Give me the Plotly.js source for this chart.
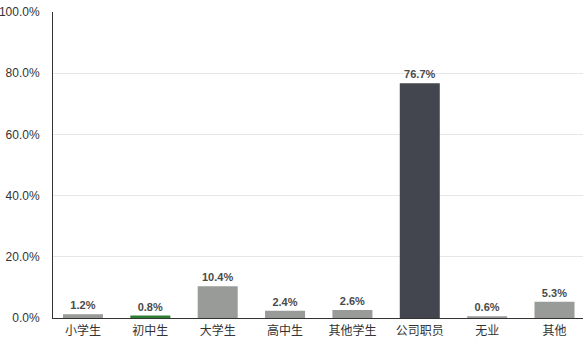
<!DOCTYPE html>
<html>
<head>
<meta charset="utf-8">
<script src="https://cdn.plot.ly/plotly-3.0.1.min.js"></script>
<style>html,body{margin:0;padding:0;background:#fff;}#chart{width:586px;height:361px;}</style>
</head>
<body>
<div id="chart"></div>
<script>
var categories = ["小学生", "初中生", "大学生", "高中生", "其他学生", "公司职员", "无业", "其他"];
var values = [1.2, 0.8, 10.4, 2.4, 2.6, 76.7, 0.6, 5.3];
var barColors = ["#999b98", "#2e7d32", "#999b98", "#999b98", "#999b98", "#43464e", "#999b98", "#999b98"];
var yTicks = [0, 20, 40, 60, 80, 100];

var FONT = "Liberation Sans, Noto Sans CJK SC, sans-serif";

var trace = {
  type: "bar",
  x: categories.map(function(c, i){ return i; }),
  y: values,
  width: 0.594,
  marker: {color: barColors, line: {width: 0}},
  text: values.map(function(v){ return v.toFixed(1) + "%"; }),
  textposition: "outside",
  textfont: {family: FONT, size: 11, color: "#4a4a4a", weight: "bold"},
  cliponaxis: false,
  hoverinfo: "none"
};

var layout = {
  width: 586, height: 361,
  margin: {l: 53, r: 3, t: 12, b: 42.5},
  paper_bgcolor: "#ffffff", plot_bgcolor: "#ffffff",
  showlegend: false,
  font: {family: FONT, size: 12, color: "#333333"},
  xaxis: {
    range: [-0.445, 7.423],
    tickmode: "array",
    tickvals: categories.map(function(c, i){ return i; }),
    ticktext: categories,
    showgrid: false, zeroline: false,
    showline: true, linecolor: "#333333", linewidth: 1,
    ticks: "", ticklabelstandoff: 2,
    tickfont: {family: "Noto Sans CJK SC, sans-serif", size: 12, color: "#333333"},
    fixedrange: true
  },
  yaxis: {
    range: [0, 100],
    tickmode: "array",
    tickvals: yTicks,
    ticktext: yTicks.map(function(v){ return v.toFixed(1) + "%"; }),
    showgrid: true, gridcolor: "#e6e6e6", gridwidth: 1,
    zeroline: false,
    showline: true, linecolor: "#333333", linewidth: 1,
    ticks: "", ticklabelstandoff: 10,
    tickfont: {family: FONT, size: 12, color: "#333333"},
    fixedrange: true
  }
};

Plotly.newPlot("chart", [trace], layout, {displayModeBar: false, staticPlot: true});
</script>
</body>
</html>
